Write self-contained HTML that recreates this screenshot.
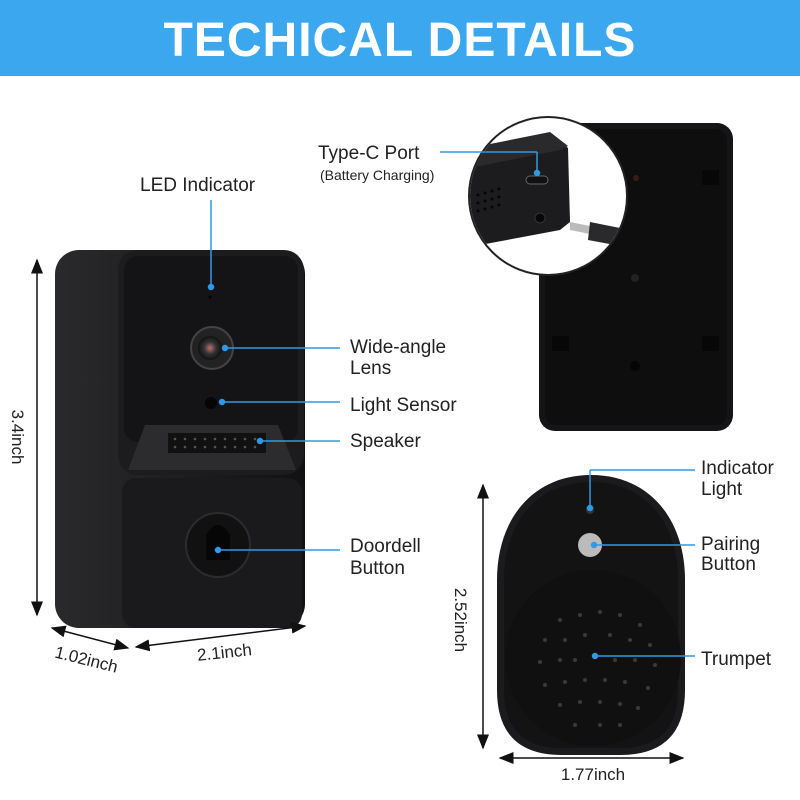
<!DOCTYPE html>
<html><head><style>
body{margin:0;width:800px;height:800px;background:#fff;overflow:hidden}
svg{display:block}
text{font-family:"Liberation Sans",sans-serif;fill:#222}
</style></head><body>
<svg width="800" height="800" viewBox="0 0 800 800">
<defs>
<linearGradient id="g1" x1="0" x2="1"><stop offset="0" stop-color="#2a2a2c"/><stop offset="1" stop-color="#111"/></linearGradient>
<radialGradient id="lens"><stop offset="0" stop-color="#c07070"/><stop offset=".5" stop-color="#333"/><stop offset="1" stop-color="#111"/></radialGradient>
<marker id="ar" markerWidth="10" markerHeight="10" refX="9" refY="5" orient="auto-start-reverse"><path d="M0,1 L10,5 L0,9 z" fill="#111"/></marker>
<clipPath id="cc"><circle cx="548" cy="196" r="78"/></clipPath>
</defs>
<rect x="0" y="0" width="800" height="76" fill="#3aa7ef"/>
<text x="400" y="56" text-anchor="middle" font-size="48" font-weight="900" style="fill:#fff;letter-spacing:1px">TECHICAL DETAILS</text>

<!-- front doorbell -->
<rect x="55" y="250" width="250" height="378" rx="24" fill="url(#g1)"/>
<rect x="118" y="250" width="186" height="225" rx="20" fill="#1c1c1e"/>
<rect x="124" y="256" width="174" height="186" rx="14" fill="#141416"/>
<path d="M128,470 L145,425 L278,425 L296,470 Z" fill="#2c2c2e"/>
<rect x="168" y="433" width="98" height="20" fill="#111"/>
<g fill="#555">
<circle cx="175" cy="439" r="1.3"/><circle cx="185" cy="439" r="1.3"/><circle cx="195" cy="439" r="1.3"/><circle cx="205" cy="439" r="1.3"/><circle cx="215" cy="439" r="1.3"/><circle cx="225" cy="439" r="1.3"/><circle cx="235" cy="439" r="1.3"/><circle cx="245" cy="439" r="1.3"/><circle cx="255" cy="439" r="1.3"/>
<circle cx="175" cy="447" r="1.3"/><circle cx="185" cy="447" r="1.3"/><circle cx="195" cy="447" r="1.3"/><circle cx="205" cy="447" r="1.3"/><circle cx="215" cy="447" r="1.3"/><circle cx="225" cy="447" r="1.3"/><circle cx="235" cy="447" r="1.3"/><circle cx="245" cy="447" r="1.3"/><circle cx="255" cy="447" r="1.3"/>
</g>
<circle cx="210" cy="297" r="1.5" fill="#000"/>
<circle cx="212" cy="348" r="21" fill="#222" stroke="#444" stroke-width="2"/>
<circle cx="210" cy="348" r="12" fill="url(#lens)"/>
<circle cx="211" cy="403" r="6" fill="#050505"/>
<rect x="122" y="478" width="180" height="150" rx="14" fill="#1a1a1c"/>
<circle cx="218" cy="545" r="32" fill="#111" stroke="#2c2c2e" stroke-width="2"/>
<path d="M206,560 L206,535 Q218,515 230,535 L230,560 Z" fill="#060606"/>

<g stroke="#2e9ae6" stroke-width="1.5" fill="#2e9ae6">
<line x1="211" y1="200" x2="211" y2="287"/><circle cx="211" cy="287" r="2.5"/>
<line x1="225" y1="348" x2="340" y2="348"/><circle cx="225" cy="348" r="2.5"/>
<line x1="222" y1="402" x2="340" y2="402"/><circle cx="222" cy="402" r="2.5"/>
<line x1="260" y1="441" x2="340" y2="441"/><circle cx="260" cy="441" r="2.5"/>
<line x1="218" y1="550" x2="340" y2="550"/><circle cx="218" cy="550" r="2.5"/>
</g>
<g font-size="19">
<text x="140" y="191">LED Indicator</text>
<text x="350" y="353">Wide-angle</text><text x="350" y="374">Lens</text>
<text x="350" y="411">Light Sensor</text>
<text x="350" y="447">Speaker</text>
<text x="350" y="552">Doordell</text><text x="350" y="574">Button</text>
</g>
<g stroke="#111" stroke-width="1.5">
<line x1="37" y1="260" x2="37" y2="615" marker-start="url(#ar)" marker-end="url(#ar)"/>
<line x1="52" y1="628" x2="128" y2="648" marker-start="url(#ar)" marker-end="url(#ar)"/>
<line x1="136" y1="647" x2="305" y2="626" marker-start="url(#ar)" marker-end="url(#ar)"/>
</g>
<text transform="translate(12,437) rotate(90)" text-anchor="middle" font-size="17">3.4inch</text>
<text transform="translate(85,665) rotate(14)" text-anchor="middle" font-size="17">1.02inch</text>
<text transform="translate(225,658) rotate(-6)" text-anchor="middle" font-size="17">2.1inch</text>

<!-- back panel -->
<rect x="539" y="123" width="194" height="308" rx="16" fill="#151517"/>
<rect x="545" y="129" width="182" height="296" rx="11" fill="#0e0e0f"/>
<g fill="#070707"><rect x="702" y="170" width="17" height="15"/><rect x="552" y="336" width="17" height="15"/><rect x="702" y="336" width="17" height="15"/></g>
<circle cx="635" cy="278" r="4" fill="#222"/><circle cx="635" cy="366" r="5" fill="#050505"/><circle cx="636" cy="178" r="3" fill="#3a1a1a"/>
<circle cx="548" cy="196" r="79" fill="#fff" stroke="#222" stroke-width="2"/>
<g clip-path="url(#cc)">
<path d="M460,160 L560,142 L568,148 L570,222 L560,230 L480,245 L460,245 Z" fill="#1c1c1e"/>
<path d="M460,150 L550,132 L568,146 L560,150 L470,168 Z" fill="#2a2a2c"/>
<g fill="#060606">
<circle cx="478" cy="195" r="1.5"/><circle cx="485" cy="193" r="1.5"/><circle cx="492" cy="191" r="1.5"/><circle cx="499" cy="189" r="1.5"/>
<circle cx="478" cy="203" r="1.5"/><circle cx="485" cy="201" r="1.5"/><circle cx="492" cy="199" r="1.5"/><circle cx="499" cy="197" r="1.5"/>
<circle cx="478" cy="211" r="1.5"/><circle cx="485" cy="209" r="1.5"/><circle cx="492" cy="207" r="1.5"/><circle cx="499" cy="205" r="1.5"/>
</g>
<rect x="526" y="176" width="22" height="8" rx="4" fill="#111" stroke="#666" stroke-width="1"/>
<circle cx="540" cy="218" r="5" fill="#080808" stroke="#333"/>
<path d="M570,222 L590,226 L590,234 L570,230 Z" fill="#bbb"/>
<path d="M590,222 L620,228 L615,245 L588,240 Z" fill="#2a2a2c"/>
</g>
<g stroke="#2e9ae6" stroke-width="1.5" fill="#2e9ae6"><line x1="440" y1="152" x2="537" y2="152"/><line x1="537" y1="152" x2="537" y2="173"/><circle cx="537" cy="173" r="2.5"/></g>
<text x="318" y="159" font-size="19">Type-C Port</text>
<text x="320" y="180" font-size="14">(Battery Charging)</text>

<!-- chime -->
<path d="M591,475 C650,475 685,520 685,580 L685,690 Q685,755 620,755 L562,755 Q497,755 497,690 L497,580 C497,520 532,475 591,475 Z" fill="#1b1b1d"/>
<path d="M591,482 C645,482 678,522 678,580 L678,690 Q678,748 620,748 L562,748 Q504,748 504,690 L504,580 C504,522 537,482 591,482 Z" fill="#131314"/>
<circle cx="593" cy="658" r="88" fill="#101011"/>
<g fill="#3a3a3c">
<circle cx="560" cy="620" r="2"/><circle cx="580" cy="615" r="2"/><circle cx="600" cy="612" r="2"/><circle cx="620" cy="615" r="2"/><circle cx="640" cy="625" r="2"/>
<circle cx="545" cy="640" r="2"/><circle cx="565" cy="640" r="2"/><circle cx="585" cy="635" r="2"/><circle cx="610" cy="635" r="2"/><circle cx="630" cy="640" r="2"/><circle cx="650" cy="645" r="2"/>
<circle cx="540" cy="662" r="2"/><circle cx="560" cy="660" r="2"/><circle cx="575" cy="660" r="2"/><circle cx="615" cy="660" r="2"/><circle cx="635" cy="660" r="2"/><circle cx="655" cy="665" r="2"/>
<circle cx="545" cy="685" r="2"/><circle cx="565" cy="682" r="2"/><circle cx="585" cy="680" r="2"/><circle cx="605" cy="680" r="2"/><circle cx="625" cy="682" r="2"/><circle cx="648" cy="688" r="2"/>
<circle cx="560" cy="705" r="2"/><circle cx="580" cy="702" r="2"/><circle cx="600" cy="702" r="2"/><circle cx="620" cy="704" r="2"/><circle cx="638" cy="708" r="2"/>
<circle cx="575" cy="725" r="2"/><circle cx="600" cy="725" r="2"/><circle cx="620" cy="725" r="2"/>
</g>
<circle cx="590" cy="510" r="4" fill="#333"/>
<circle cx="590" cy="545" r="12" fill="#bbb"/>
<g stroke="#2e9ae6" stroke-width="1.5" fill="#2e9ae6">
<line x1="590" y1="508" x2="590" y2="470"/><line x1="590" y1="470" x2="695" y2="470"/><circle cx="590" cy="508" r="2.5"/>
<line x1="594" y1="545" x2="695" y2="545"/><circle cx="594" cy="545" r="2.5"/>
<line x1="595" y1="656" x2="695" y2="656"/><circle cx="595" cy="656" r="2.5"/>
</g>
<g font-size="19">
<text x="701" y="474">Indicator</text><text x="701" y="495">Light</text>
<text x="701" y="550">Pairing</text><text x="701" y="570">Button</text>
<text x="701" y="665">Trumpet</text>
</g>
<g stroke="#111" stroke-width="1.5">
<line x1="483" y1="485" x2="483" y2="748" marker-start="url(#ar)" marker-end="url(#ar)"/>
<line x1="500" y1="758" x2="683" y2="758" marker-start="url(#ar)" marker-end="url(#ar)"/>
</g>
<text transform="translate(455,620) rotate(90)" text-anchor="middle" font-size="17">2.52inch</text>
<text x="593" y="780" text-anchor="middle" font-size="17">1.77inch</text>
</svg>
</body></html>
